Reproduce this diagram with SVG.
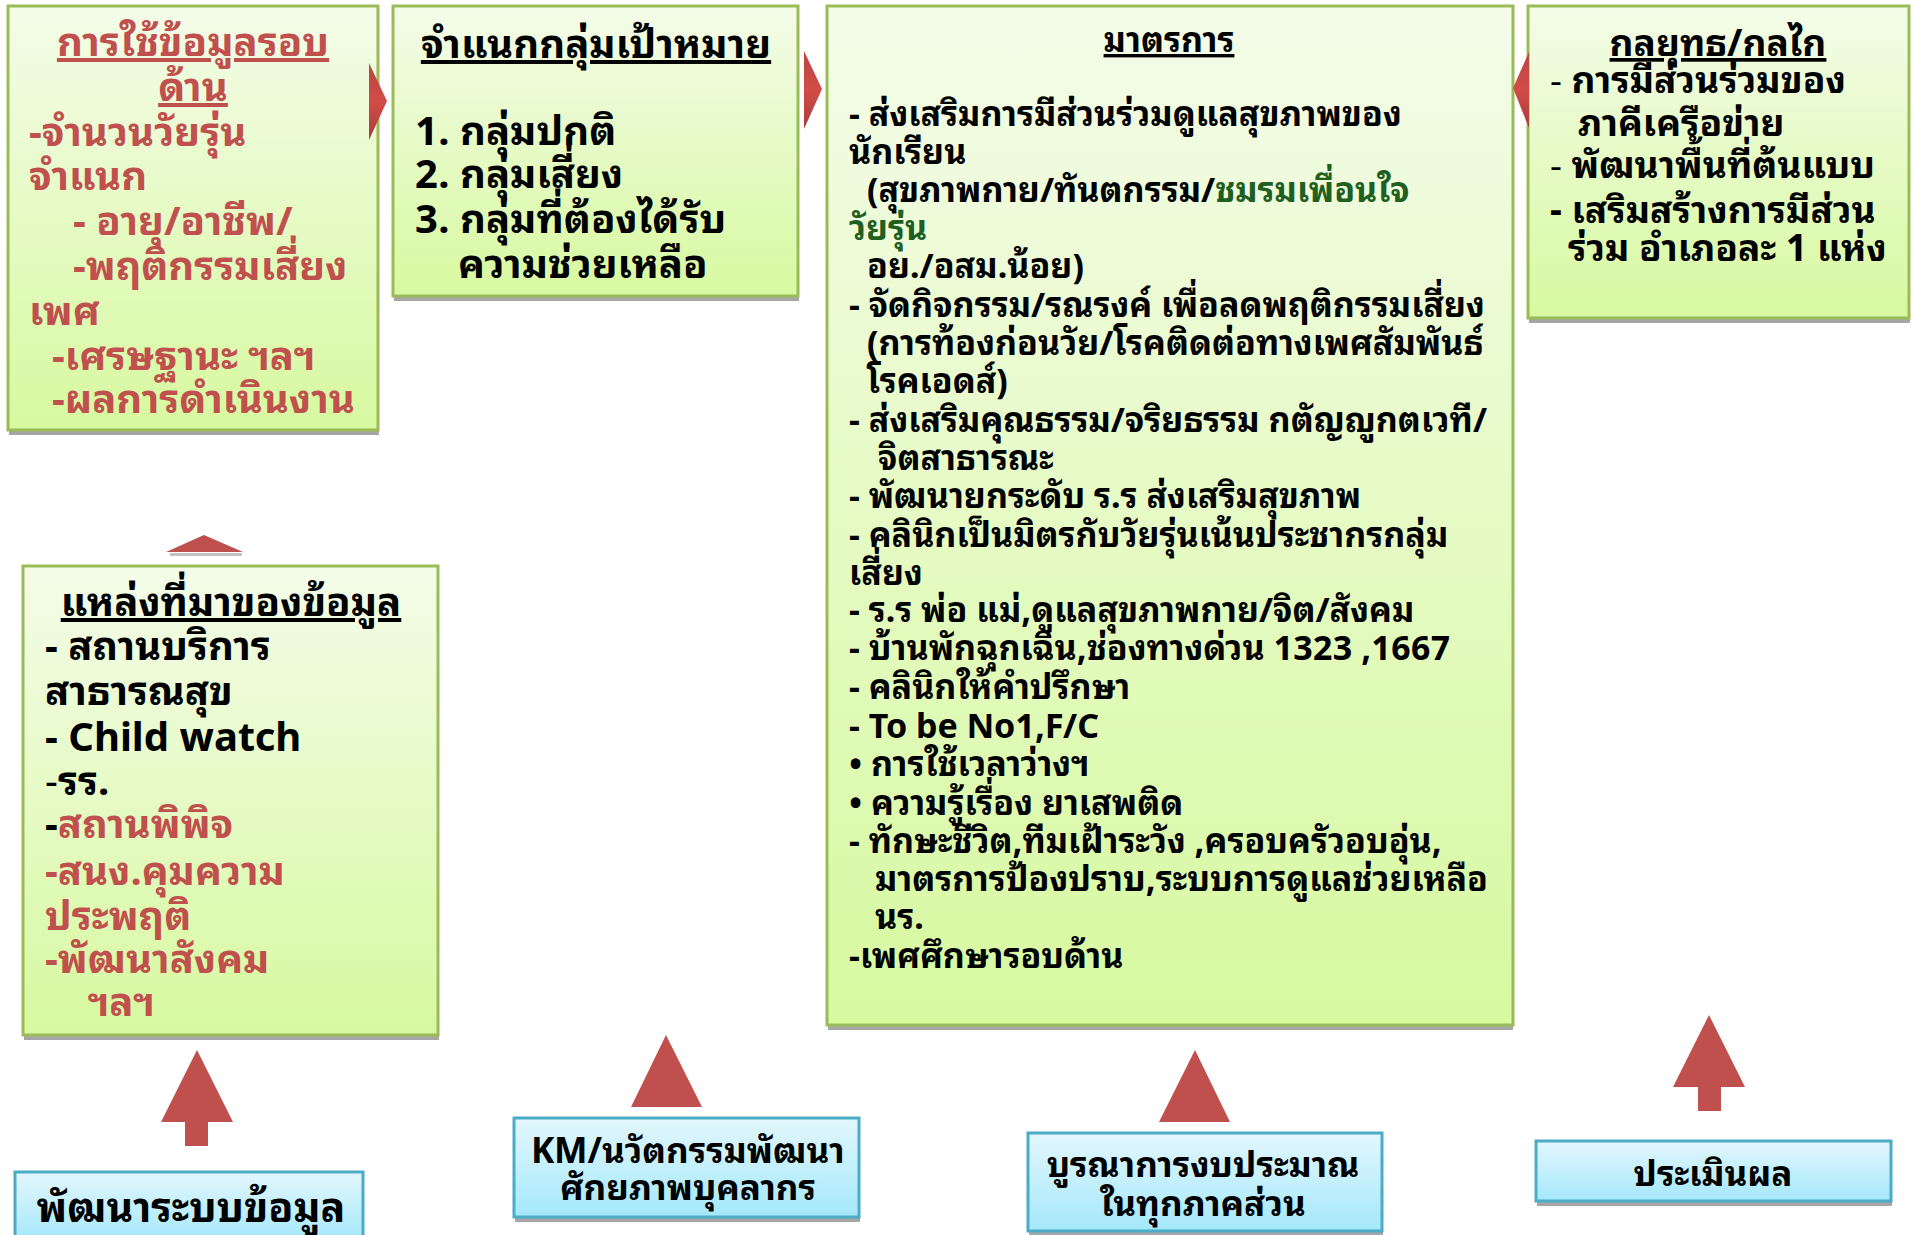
<svg xmlns="http://www.w3.org/2000/svg" width="1916" height="1235" viewBox="0 0 1916 1235">
<defs>
<linearGradient id="gGreen" x1="0" y1="0" x2="0" y2="1">
<stop offset="0" stop-color="#f4fce9"/>
<stop offset="1" stop-color="#d7f9a0"/>
</linearGradient>
<linearGradient id="gBlue" x1="0" y1="0" x2="0" y2="1">
<stop offset="0" stop-color="#e3f7fd"/>
<stop offset="1" stop-color="#a4e8fb"/>
</linearGradient>
<linearGradient id="gRedH" x1="0" y1="0" x2="0" y2="1">
<stop offset="0" stop-color="#b94542"/>
<stop offset="0.5" stop-color="#d24c48"/>
<stop offset="1" stop-color="#a83c39"/>
</linearGradient>
<style>
.gbox{fill:url(#gGreen);stroke:#9bbb59;stroke-width:3}
.bbox{fill:url(#gBlue);stroke:#4bacc6;stroke-width:3}
.shadow{fill:#a6a6a6}
.arr{fill:#c0504d}
.t{font-family:Tahoma,"Noto Sans Thai Looped","Noto Looped Thai",Loma,Garuda,Waree,Umpush,"Noto Sans Thai","Noto Sans","DejaVu Sans",sans-serif;font-weight:bold}
.red{fill:#c0504d}
.blk{fill:#000}
.grn{fill:#1f5f1f}
.u{text-decoration:underline}
.f1{font-size:40px}
.f3{font-size:34px}
.f4{font-size:37px}
.fb{font-size:35px}
.fbig{font-size:41px}
</style>
</defs>

<g id="node-usage">
<rect class="shadow" x="9" y="431" width="370" height="4"/>
<rect class="gbox" x="8" y="6" width="370" height="424"/>
<text class="t f1 red u" x="193" y="56" text-anchor="middle">การใช้ข้อมูลรอบ</text>
<text class="t f1 red u" x="193" y="101" text-anchor="middle">ด้าน</text>
<text class="t f1 red" x="29" y="146">-จำนวนวัยรุ่น</text>
<text class="t f1 red" x="29" y="190">จำแนก</text>
<text class="t f1 red" x="73" y="235">- อายุ/อาชีพ/</text>
<text class="t f1 red" x="73" y="280">-พฤติกรรมเสี่ยง</text>
<text class="t f1 red" x="29" y="325">เพศ</text>
<text class="t f1 red" x="52" y="370">-เศรษฐานะ ฯลฯ</text>
<text class="t f1 red" x="52" y="413">-ผลการดำเนินงาน</text>
</g>

<g id="node-target">
<rect class="shadow" x="394" y="297" width="405" height="4"/>
<rect class="gbox" x="393" y="6" width="405" height="290"/>
<text class="t f1 blk u" x="596" y="58" text-anchor="middle">จำแนกกลุ่มเป้าหมาย</text>
<text class="t f1 blk" x="415" y="145">1. กลุ่มปกติ</text>
<text class="t f1 blk" x="415" y="188">2. กลุ่มเสี่ยง</text>
<text class="t f1 blk" x="415" y="233">3. กลุ่มที่ต้องได้รับ</text>
<text class="t f1 blk" x="458" y="278">ความช่วยเหลือ</text>
</g>

<g id="node-measures">
<rect class="shadow" x="828" y="1026" width="685" height="4"/>
<rect class="gbox" x="827" y="6" width="686" height="1019"/>
<text class="t f3 blk u" x="1169" y="52" text-anchor="middle">มาตรการ</text>
<text class="t f3 blk" x="849" y="126">- ส่งเสริมการมีส่วนร่วมดูแลสุขภาพของ</text>
<text class="t f3 blk" x="849" y="164">นักเรียน</text>
<text class="t f3 blk" x="867" y="202">(สุขภาพกาย/ทันตกรรม/<tspan class="grn">ชมรมเพื่อนใจ</tspan></text>
<text class="t f3 grn" x="849" y="240">วัยรุ่น</text>
<text class="t f3 blk" x="867" y="278">อย./อสม.น้อย)</text>
<text class="t f3 blk" x="849" y="317">- จัดกิจกรรม/รณรงค์ เพื่อลดพฤติกรรมเสี่ยง</text>
<text class="t f3 blk" x="867" y="355">(การท้องก่อนวัย/โรคติดต่อทางเพศสัมพันธ์</text>
<text class="t f3 blk" x="867" y="393">โรคเอดส์)</text>
<text class="t f3 blk" x="849" y="432">- ส่งเสริมคุณธรรม/จริยธรรม กตัญญูกตเวที/</text>
<text class="t f3 blk" x="878" y="470">จิตสาธารณะ</text>
<text class="t f3 blk" x="849" y="508">- พัฒนายกระดับ ร.ร ส่งเสริมสุขภาพ</text>
<text class="t f3 blk" x="849" y="547">- คลินิกเป็นมิตรกับวัยรุ่นเน้นประชากรกลุ่ม</text>
<text class="t f3 blk" x="849" y="585">เสี่ยง</text>
<text class="t f3 blk" x="849" y="622">- ร.ร พ่อ แม่,ดูแลสุขภาพกาย/จิต/สังคม</text>
<text class="t f3 blk" x="849" y="660">- บ้านพักฉุกเฉิน,ช่องทางด่วน 1323 ,1667</text>
<text class="t f3 blk" x="849" y="699">- คลินิกให้คำปรึกษา</text>
<text class="t f3 blk" x="849" y="738">- To be No1,F/C</text>
<text class="t f3 blk" x="849" y="776">• การใช้เวลาว่างฯ</text>
<text class="t f3 blk" x="849" y="815">• ความรู้เรื่อง ยาเสพติด</text>
<text class="t f3 blk" x="849" y="853">- ทักษะชีวิต,ทีมเฝ้าระวัง ,ครอบครัวอบอุ่น,</text>
<text class="t f3 blk" x="875" y="891">มาตรการป้องปราบ,ระบบการดูแลช่วยเหลือ</text>
<text class="t f3 blk" x="875" y="929">นร.</text>
<text class="t f3 blk" x="849" y="968">-เพศศึกษารอบด้าน</text>
</g>

<g id="node-strategy">
<rect class="shadow" x="1529" y="319" width="381" height="4"/>
<rect class="gbox" x="1528" y="6" width="381" height="312"/>
<text class="t f4 blk u" x="1718" y="56" text-anchor="middle">กลยุทธ/กลไก</text>
<text class="t f4 blk" x="1550" y="93"><tspan font-weight="normal">-</tspan> การมีส่วนร่วมของ</text>
<text class="t f4 blk" x="1578" y="136">ภาคีเครือข่าย</text>
<text class="t f4 blk" x="1550" y="178"><tspan font-weight="normal">-</tspan> พัฒนาพื้นที่ต้นแบบ</text>
<text class="t f4 blk" x="1550" y="223">- เสริมสร้างการมีส่วน</text>
<text class="t f4 blk" x="1568" y="261">ร่วม อำเภอละ 1 แห่ง</text>
</g>

<g id="node-sources">
<rect class="shadow" x="24" y="1036" width="415" height="4"/>
<rect class="gbox" x="23" y="566" width="415" height="469"/>
<text class="t f1 blk u" x="231" y="616" text-anchor="middle">แหล่งที่มาของข้อมูล</text>
<text class="t f1 blk" x="45" y="660">- สถานบริการ</text>
<text class="t f1 blk" x="45" y="705">สาธารณสุข</text>
<text class="t f1 blk" x="45" y="751">- Child watch</text>
<text class="t f1 blk" x="45" y="795"><tspan font-weight="normal">-</tspan>รร.</text>
<text class="t f1 blk" x="45" y="838">-<tspan class="red">สถานพิพิจ</tspan></text>
<text class="t f1 red" x="45" y="885">-สนง.คุมความ</text>
<text class="t f1 red" x="45" y="930">ประพฤติ</text>
<text class="t f1 red" x="45" y="973">-พัฒนาสังคม</text>
<text class="t f1 red" x="88" y="1016">ฯลฯ</text>
</g>

<g id="node-devdata">
<rect class="shadow" x="16" y="1236" width="348" height="4"/>
<rect class="bbox" x="15" y="1172" width="348" height="70"/>
<text class="t fbig blk" x="191" y="1222" text-anchor="middle">พัฒนาระบบข้อมูล</text>
</g>

<g id="node-km">
<rect class="shadow" x="515" y="1218" width="345" height="4"/>
<rect class="bbox" x="514" y="1118" width="345" height="99"/>
<text class="t fb blk" x="688" y="1163" text-anchor="middle">KM/นวัตกรรมพัฒนา</text>
<text class="t fb blk" x="688" y="1200" text-anchor="middle">ศักยภาพบุคลากร</text>
</g>

<g id="node-budget">
<rect class="shadow" x="1029" y="1232" width="354" height="4"/>
<rect class="bbox" x="1028" y="1133" width="354" height="98"/>
<text class="t fb blk" x="1203" y="1177" text-anchor="middle">บูรณาการงบประมาณ</text>
<text class="t fb blk" x="1203" y="1216" text-anchor="middle">ในทุกภาคส่วน</text>
</g>

<g id="node-eval">
<rect class="shadow" x="1537" y="1202" width="355" height="4"/>
<rect class="bbox" x="1536" y="1141" width="355" height="60"/>
<text class="t fb blk" x="1713" y="1186" text-anchor="middle">ประเมินผล</text>
</g>

<g id="connectors">
<polygon fill="url(#gRedH)" points="369,63 387,101 369,140"/>
<polygon fill="url(#gRedH)" points="804,51 822,89 804,129"/>
<polygon fill="url(#gRedH)" points="1529,52 1513,88 1529,128"/>
<rect class="shadow" x="170" y="553" width="72" height="3" opacity="0.7"/>
<polygon class="arr" points="166,552 204,535 243,552"/>
<polygon class="arr" points="197,1050 233,1122 208,1122 208,1146 185,1146 185,1122 161,1122"/>
<polygon class="arr" points="666,1035 702,1107 631,1107"/>
<polygon class="arr" points="1195,1050 1230,1122 1159,1122"/>
<polygon class="arr" points="1709,1015 1745,1087 1721,1087 1721,1111 1698,1111 1698,1087 1673,1087"/>
</g>
</svg>
